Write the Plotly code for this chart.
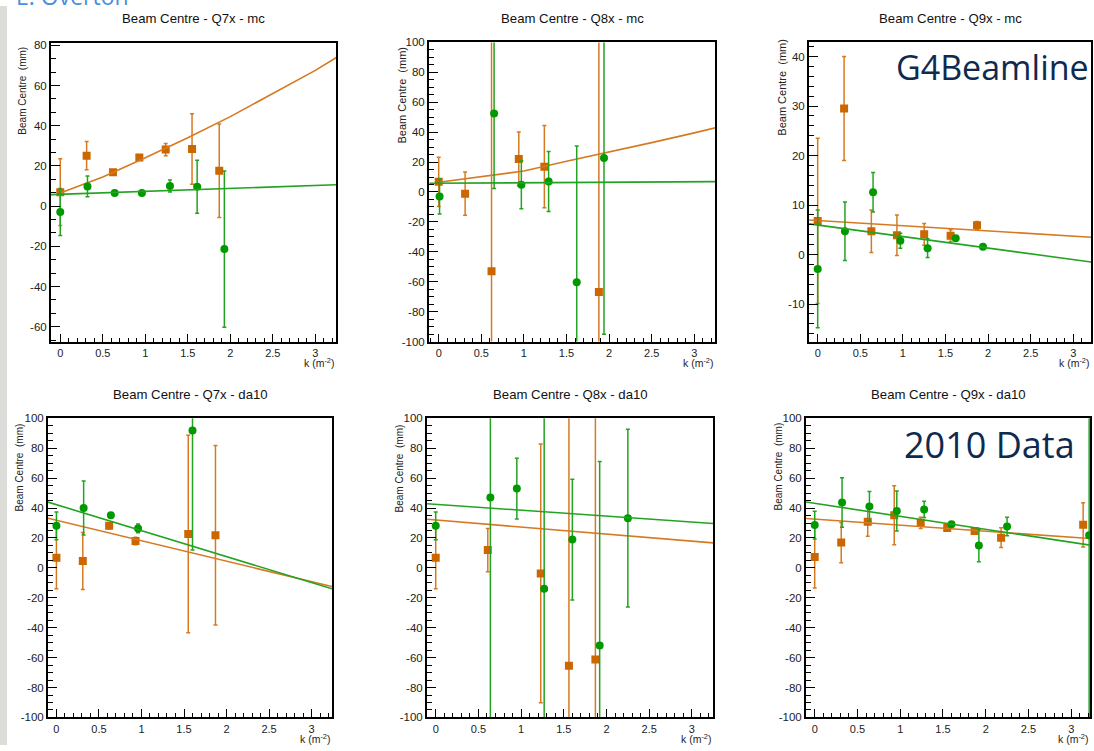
import plotly.graph_objects as go

W, H = 1094, 751

# ---------------- data ----------------
# Panel: Beam Centre - Q7x - mc
q7mc_k_o = [0.0, 0.31, 0.62, 0.93, 1.24, 1.55, 1.87]
q7mc_y_o = [6.9, 25.1, 16.8, 24.2, 28.1, 28.4, 17.6]
q7mc_e_o = [16.6, 7.0, 1.0, 1.0, 3.0, 17.5, 23.3]
q7mc_k_g = [0.0, 0.32, 0.64, 0.96, 1.29, 1.61, 1.93]
q7mc_y_g = [-2.9, 9.8, 6.5, 6.5, 10.0, 9.6, -21.4]
q7mc_e_g = [11.7, 5.2, 0.8, 0.8, 3.0, 13.2, 38.9]
q7mc_fit_k_o = [0.0, 0.5, 1.0, 1.5, 2.0, 2.5, 3.0, 3.25]
q7mc_fit_y_o = [6.5, 14.5, 24.0, 34.0, 44.5, 55.8, 67.5, 74.0]
q7mc_fit_k_g = [-0.11, 3.25]
q7mc_fit_y_g = [5.7, 10.6]

# Panel: Beam Centre - Q8x - mc
q8mc_k_o = [0.0, 0.31, 0.62, 0.94, 1.24, 1.88]
q8mc_y_o = [6.8, -1.1, -53.0, 22.1, 16.9, -66.9]
q8mc_e_o = [16.5, 14.5, 200.0, 18.0, 27.5, 200.0]
q8mc_k_g = [0.01, 0.65, 0.97, 1.29, 1.62, 1.94]
q8mc_y_g = [-3.0, 52.4, 4.8, 7.0, -60.3, 22.8]
q8mc_e_g = [11.7, 50.0, 16.0, 20.0, 91.0, 118.0]
q8mc_fit_k_o = [0.0, 0.5, 1.0, 1.5, 2.0, 2.5, 3.0, 3.25]
q8mc_fit_y_o = [6.5, 10.1, 14.0, 20.5, 26.5, 33.0, 39.5, 43.0]
q8mc_fit_k_g = [-0.11, 3.25]
q8mc_fit_y_g = [5.8, 6.9]

# Panel: Beam Centre - Q9x - mc
q9mc_k_o = [0.0, 0.31, 0.63, 0.93, 1.25, 1.56, 1.87]
q9mc_y_o = [6.8, 29.5, 4.7, 3.9, 4.1, 3.8, 5.9]
q9mc_e_o = [16.7, 10.5, 4.3, 4.1, 2.2, 1.2, 0.8]
q9mc_k_g = [0.0, 0.32, 0.65, 0.97, 1.29, 1.62, 1.94]
q9mc_y_g = [-2.9, 4.7, 12.6, 2.8, 1.3, 3.3, 1.6]
q9mc_e_g = [11.9, 5.9, 4.0, 1.5, 1.9, 0.5, 0.3]
q9mc_fit_k_o = [-0.1, 3.21]
q9mc_fit_y_o = [7.0, 3.5]
q9mc_fit_k_g = [-0.1, 3.21]
q9mc_fit_y_g = [6.2, -1.5]

# Panel: Beam Centre - Q7x - da10
q7da_k_o = [0.0, 0.31, 0.62, 0.93, 1.55, 1.87]
q7da_y_o = [6.8, 4.6, 28.1, 18.0, 22.6, 21.8]
q7da_e_o = [20.8, 19.0, 2.0, 2.5, 66.0, 60.0]
q7da_k_g = [0.0, 0.32, 0.64, 0.96, 1.6]
q7da_y_g = [28.1, 40.0, 35.2, 26.4, 91.9]
q7da_e_g = [9.3, 18.0, 1.5, 3.0, 80.0]
q7da_fit_k_o = [-0.1, 3.24]
q7da_fit_y_o = [33.2, -12.5]
q7da_fit_k_g = [-0.1, 3.24]
q7da_fit_y_g = [44.0, -14.0]

# Panel: Beam Centre - Q8x - da10
q8da_k_o = [0.0, 0.61, 1.23, 1.56, 1.87]
q8da_y_o = [6.8, 11.9, -3.7, -65.5, -61.3]
q8da_e_o = [20.8, 14.5, 86.5, 250.0, 250.0]
q8da_k_g = [0.0, 0.64, 0.95, 1.27, 1.6, 1.92, 2.25]
q8da_y_g = [28.1, 47.0, 53.0, -14.0, 18.9, -51.9, 33.2]
q8da_e_g = [9.3, 200.0, 20.3, 200.0, 40.4, 123.0, 59.4]
q8da_fit_k_o = [-0.1, 3.25]
q8da_fit_y_o = [32.5, 16.7]
q8da_fit_k_g = [-0.1, 3.25]
q8da_fit_y_g = [42.9, 29.7]

# Panel: Beam Centre - Q9x - da10
q9da_k_o = [0.0, 0.31, 0.62, 0.93, 1.24, 1.55, 1.87, 2.18, 3.14]
q9da_y_o = [7.3, 16.9, 30.8, 35.2, 30.1, 26.6, 24.6, 20.2, 28.8]
q9da_e_o = [20.8, 13.4, 9.7, 19.7, 3.7, 2.0, 2.0, 6.6, 14.8]
q9da_k_g = [0.0, 0.32, 0.64, 0.96, 1.28, 1.6, 1.92, 2.25, 3.21]
q9da_y_g = [28.6, 43.7, 41.1, 38.0, 39.1, 29.2, 15.0, 27.7, 21.8]
q9da_e_g = [9.3, 16.6, 10.0, 13.4, 5.4, 1.0, 10.9, 6.2, 300.0]
q9da_fit_k_o = [-0.1, 3.22]
q9da_fit_y_o = [33.0, 19.6]
q9da_fit_k_g = [-0.1, 3.22]
q9da_fit_y_g = [44.0, 15.2]

# tick labels
x_ticks = [0, 0.5, 1, 1.5, 2, 2.5, 3]
x_tick_labels = ["0", "0.5", "1", "1.5", "2", "2.5", "3"]
y_ticks_q7mc = [-60, -40, -20, 0, 20, 40, 60, 80]
y_ticks_100 = [-100, -80, -60, -40, -20, 0, 20, 40, 60, 80, 100]
y_ticks_q9mc = [-10, 0, 10, 20, 30, 40]

titles = ["Beam Centre - Q7x - mc", "Beam Centre - Q8x - mc", "Beam Centre - Q9x - mc",
          "Beam Centre - Q7x - da10", "Beam Centre - Q8x - da10", "Beam Centre - Q9x - da10"]

# ---------------- styling / layout ----------------
ORANGE_M = "#cc6600"
ORANGE_L = "#d67a22"
GREEN_M = "#009a00"
GREEN_L = "#22a322"
FONT = "Liberation Sans, Arial, Helvetica, sans-serif"

panels = [
    dict(frame=(51, 38, 336, 341), xr=[-0.109, 3.243], yr=[-67.4, 80.95], yt=y_ticks_q7mc, ymin=20/3,
         data=(q7mc_k_o, q7mc_y_o, q7mc_e_o, q7mc_k_g, q7mc_y_g, q7mc_e_g,
               q7mc_fit_k_o, q7mc_fit_y_o, q7mc_fit_k_g, q7mc_fit_y_g),
         ytitle=(23, 86, 10), xtitle_y=362),
    dict(frame=(429, 37, 715, 341), xr=[-0.114, 3.243], yr=[-100, 100], yt=y_ticks_100, ymin=5,
         data=(q8mc_k_o, q8mc_y_o, q8mc_e_o, q8mc_k_g, q8mc_y_g, q8mc_e_g,
               q8mc_fit_k_o, q8mc_fit_y_o, q8mc_fit_k_g, q8mc_fit_y_g),
         ytitle=(402, 91, 11), xtitle_y=362),
    dict(frame=(809, 37, 1091, 341), xr=[-0.102, 3.208], yr=[-17.57, 42.86], yt=y_ticks_q9mc, ymin=2,
         data=(q9mc_k_o, q9mc_y_o, q9mc_e_o, q9mc_k_g, q9mc_y_g, q9mc_e_g,
               q9mc_fit_k_o, q9mc_fit_y_o, q9mc_fit_k_g, q9mc_fit_y_g),
         ytitle=(782, 83, 11), xtitle_y=362),
    dict(frame=(48, 419, 332, 723), xr=[-0.099, 3.24], yr=[-100, 100], yt=y_ticks_100, ymin=5,
         data=(q7da_k_o, q7da_y_o, q7da_e_o, q7da_k_g, q7da_y_g, q7da_e_g,
               q7da_fit_k_o, q7da_fit_y_o, q7da_fit_k_g, q7da_fit_y_g),
         ytitle=(20, 469, 10), xtitle_y=744),
    dict(frame=(427, 419, 713, 723), xr=[-0.102, 3.247], yr=[-100, 100], yt=y_ticks_100, ymin=5,
         data=(q8da_k_o, q8da_y_o, q8da_e_o, q8da_k_g, q8da_y_g, q8da_e_g,
               q8da_fit_k_o, q8da_fit_y_o, q8da_fit_k_g, q8da_fit_y_g),
         ytitle=(399, 470, 10), xtitle_y=744),
    dict(frame=(806, 419, 1090, 723), xr=[-0.102, 3.22], yr=[-100, 100], yt=y_ticks_100, ymin=5,
         data=(q9da_k_o, q9da_y_o, q9da_e_o, q9da_k_g, q9da_y_g, q9da_e_g,
               q9da_fit_k_o, q9da_fit_y_o, q9da_fit_k_g, q9da_fit_y_g),
         ytitle=(779, 468, 10), xtitle_y=744),
]

fig = go.Figure()
layout = dict(width=W, height=H, margin=dict(l=0, r=0, t=0, b=0),
              paper_bgcolor="white", plot_bgcolor="white", showlegend=False,
              font=dict(family=FONT, color="#111111"))
annotations = []

for i, p in enumerate(panels, start=1):
    l, t, r, b = p["frame"]
    xa, ya = f"x{i}", f"y{i}"
    ko, yo, eo, kg, yg, eg, fko, fyo, fkg, fyg = p["data"]
    fig.add_trace(go.Scatter(x=ko, y=yo, mode="markers", xaxis=xa, yaxis=ya,
                             marker=dict(symbol="square", size=8, color=ORANGE_M),
                             error_y=dict(type="data", array=eo, visible=True, color=ORANGE_L,
                                          thickness=1.5, width=2)))
    fig.add_trace(go.Scatter(x=fko, y=fyo, mode="lines", xaxis=xa, yaxis=ya,
                             line=dict(color=ORANGE_L, width=1.6)))
    fig.add_trace(go.Scatter(x=kg, y=yg, mode="markers", xaxis=xa, yaxis=ya,
                             marker=dict(symbol="circle", size=8, color=GREEN_M),
                             error_y=dict(type="data", array=eg, visible=True, color=GREEN_L,
                                          thickness=1.5, width=2)))
    fig.add_trace(go.Scatter(x=fkg, y=fyg, mode="lines", xaxis=xa, yaxis=ya,
                             line=dict(color=GREEN_L, width=1.6)))

    sfx = "" if i == 1 else str(i)
    layout["xaxis" + sfx] = dict(
        domain=[l / W, r / W], anchor=ya, range=p["xr"], showgrid=False, zeroline=False,
        showline=True, mirror=True, linecolor="black", linewidth=2,
        ticks="inside", ticklen=8, tickwidth=1.2, tickcolor="black",
        tickmode="array", tickvals=x_ticks, ticktext=x_tick_labels,
        tickfont=dict(size=11, family=FONT, color="#222"),
        minor=dict(ticks="inside", ticklen=4, tickwidth=1.2, tickcolor="black",
                   tickmode="linear", tick0=0, dtick=0.1, showgrid=False),
        fixedrange=True)
    layout["yaxis" + sfx] = dict(
        domain=[1 - b / H, 1 - t / H], anchor=xa, range=p["yr"], showgrid=False, zeroline=False,
        showline=True, mirror=True, linecolor="black", linewidth=2,
        ticks="inside", ticklen=9, tickwidth=1.2, tickcolor="black",
        tickmode="array", tickvals=p["yt"], ticktext=[str(v) for v in p["yt"]],
        tickfont=dict(size=11.5, family=FONT, color="#222"),
        minor=dict(ticks="inside", ticklen=5, tickwidth=1.2, tickcolor="black",
                   tickmode="linear", tick0=0, dtick=p["ymin"], showgrid=False),
        fixedrange=True)

    # panel title
    annotations.append(dict(text=titles[i - 1], x=(l + r) / 2 / W, y=1 - (13 if i <= 3 else 395) / H,
                            xref="paper", yref="paper", xanchor="center", yanchor="middle",
                            showarrow=False, font=dict(size=13.2, family=FONT, color="#111")))
    # y title
    tx, ty, fs = p["ytitle"]
    annotations.append(dict(text="Beam Centre  (mm)", x=tx / W, y=1 - ty / H, xref="paper", yref="paper",
                            xanchor="center", yanchor="middle", textangle=-90, showarrow=False,
                            font=dict(size=fs, family=FONT, color="#222")))
    # x title
    annotations.append(dict(text="k (m<sup>-2</sup>)", x=r / W, y=1 - p["xtitle_y"] / H,
                            xref="paper", yref="paper", xanchor="right", yanchor="middle",
                            showarrow=False, font=dict(size=10.5, family=FONT, color="#222")))

# overlay texts of the slide
annotations.append(dict(text="G4Beamline", x=992 / W, y=1 - 62 / H, xref="paper", yref="paper",
                        xanchor="center", yanchor="middle", showarrow=False,
                        font=dict(size=34, family="Open Sans, sans-serif", color="#0e2a4f")))
annotations.append(dict(text="2010 Data", x=989 / W, y=1 - 446 / H, xref="paper", yref="paper",
                        xanchor="center", yanchor="middle", showarrow=False,
                        font=dict(size=36, family="Open Sans, sans-serif", color="#0e2a4f")))
annotations.append(dict(text="E. Overton", x=14 / W, y=1 - 8 / H, xref="paper", yref="paper",
                        xanchor="left", yanchor="bottom", showarrow=False,
                        font=dict(size=23, family="Open Sans, sans-serif", color="#4a8fdc")))

layout["annotations"] = annotations
layout["shapes"] = [dict(type="rect", xref="paper", yref="paper", x0=0, x1=7 / W, y0=0, y1=1,
                         fillcolor="#dcdcd8", line=dict(width=0), layer="below")]
fig.update_layout(**layout)
fig.write_html("out.html")
